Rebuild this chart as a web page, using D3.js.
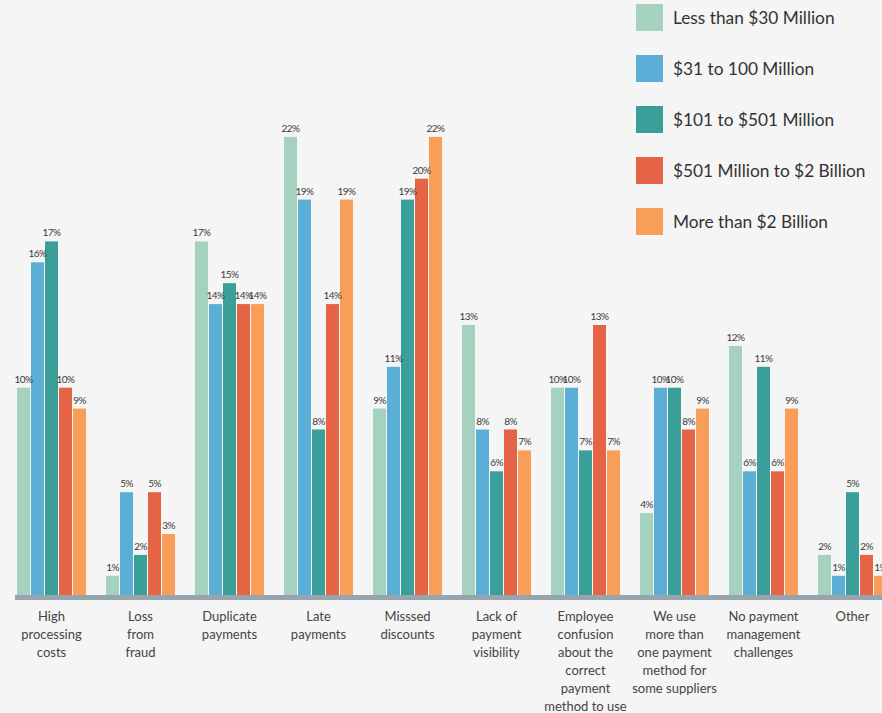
<!DOCTYPE html>
<html>
<head>
<meta charset="utf-8">
<script src="https://cdn.jsdelivr.net/npm/d3@7/dist/d3.min.js"></script>
<style>
  html, body { margin: 0; padding: 0; background: #f4f5f4; }
  svg { display: block; font-family: Lato, "Open Sans", sans-serif; }
</style>
</head>
<body>
<svg id="chart" width="882" height="713"></svg>
<script>
// Payment challenges by company revenue (percent of respondents)
const categories = [
  "High processing costs", "Loss from fraud", "Duplicate payments", "Late payments",
  "Misssed discounts", "Lack of payment visibility", "Employee confusion",
  "Multiple payment methods", "No challenges", "Other"
];
// Wrapped label lines for each category
const categoryLines = [
  ["High", "processing", "costs"],
  ["Loss", "from", "fraud"],
  ["Duplicate", "payments"],
  ["Late", "payments"],
  ["Misssed", "discounts"],
  ["Lack of", "payment", "visibility"],
  ["Employee", "confusion", "about the", "correct", "payment", "method to use"],
  ["We use", "more than", "one payment", "method for", "some suppliers"],
  ["No payment", "management", "challenges"],
  ["Other"]
];

const seriesNames = [
  "Less than $30 Million",
  "$31 to 100 Million",
  "$101 to $501 Million",
  "$501 Million to $2 Billion",
  "More than $2 Billion"
];
const seriesColors = ["#a5d2bf", "#5baed5", "#3a9f98", "#e46445", "#f89e58"];

const under30   = [10, 1, 17, 22, 9, 13, 10, 4, 12, 2];
const m31to100  = [16, 5, 14, 19, 11, 8, 10, 10, 6, 1];
const m101to501 = [17, 2, 15, 8, 19, 6, 7, 10, 11, 5];
const m501to2b  = [10, 5, 14, 14, 20, 8, 13, 8, 6, 2];
const over2b    = [9, 3, 14, 19, 22, 7, 7, 9, 9, 1];
const seriesValues = [under30, m31to100, m101to501, m501to2b, over2b];

const svg = d3.select("#chart");

const baseline = 596.7;
const y = d3.scaleLinear().domain([0, 22]).range([baseline, baseline - 22 * 20.9]);

const x0 = d3.scaleBand().domain(categories).range([17, 888])
  .paddingInner(19 / 89).paddingOuter(0);
const x1 = d3.scaleBand().domain(seriesNames).range([0, x0.bandwidth()]).padding(0);

const groups = svg.append("g").selectAll("g")
  .data(categories)
  .join("g")
  .attr("transform", d => `translate(${x0(d)},0)`);

groups.each(function (cat, ci) {
  const g = d3.select(this);
  const rows = seriesNames.map((s, si) => ({ s, si, v: seriesValues[si][ci] }));
  g.selectAll("rect")
    .data(rows)
    .join("rect")
    .attr("x", d => x1(d.s))
    .attr("y", d => y(d.v))
    .attr("width", x1.bandwidth() - 1)
    .attr("height", d => baseline - y(d.v) + 2)
    .attr("fill", d => seriesColors[d.si]);
  g.selectAll("text")
    .data(rows)
    .join("text")
    .attr("x", d => x1(d.s) + (x1.bandwidth() - 1) / 2)
    .attr("y", d => y(d.v) - 5)
    .attr("text-anchor", "middle")
    .attr("font-size", 10)
    .attr("letter-spacing", -0.6)
    .attr("fill", "#3a3a3a")
    .text(d => d.v + "%");
});

// Baseline axis bar
svg.append("rect")
  .attr("x", 15).attr("y", 595)
  .attr("width", 882 - 15).attr("height", 5)
  .attr("fill", "#97a5ae");

// Category labels
const labels = svg.append("g").selectAll("text")
  .data(categories)
  .join("text")
  .attr("x", d => x0(d) + x0.bandwidth() / 2 - 0.5)
  .attr("y", 621)
  .attr("text-anchor", "middle")
  .attr("font-size", 13)
  .attr("fill", "#444");
labels.each(function (d, i) {
  const t = d3.select(this);
  categoryLines[i].forEach((line, li) => {
    t.append("tspan")
      .attr("x", x0(d) + x0.bandwidth() / 2 - 0.5)
      .attr("dy", li === 0 ? 0 : 18)
      .text(line);
  });
});

// Legend
const legend = svg.append("g").selectAll("g")
  .data(seriesNames)
  .join("g")
  .attr("transform", (d, i) => `translate(636,${4 + i * 51})`);
legend.append("rect")
  .attr("width", 27).attr("height", 27)
  .attr("fill", (d, i) => seriesColors[i]);
legend.append("text")
  .attr("x", 37).attr("y", 19.5)
  .attr("font-size", 17.3)
  .attr("fill", "#333")
  .text(d => d);
</script>
</body>
</html>
